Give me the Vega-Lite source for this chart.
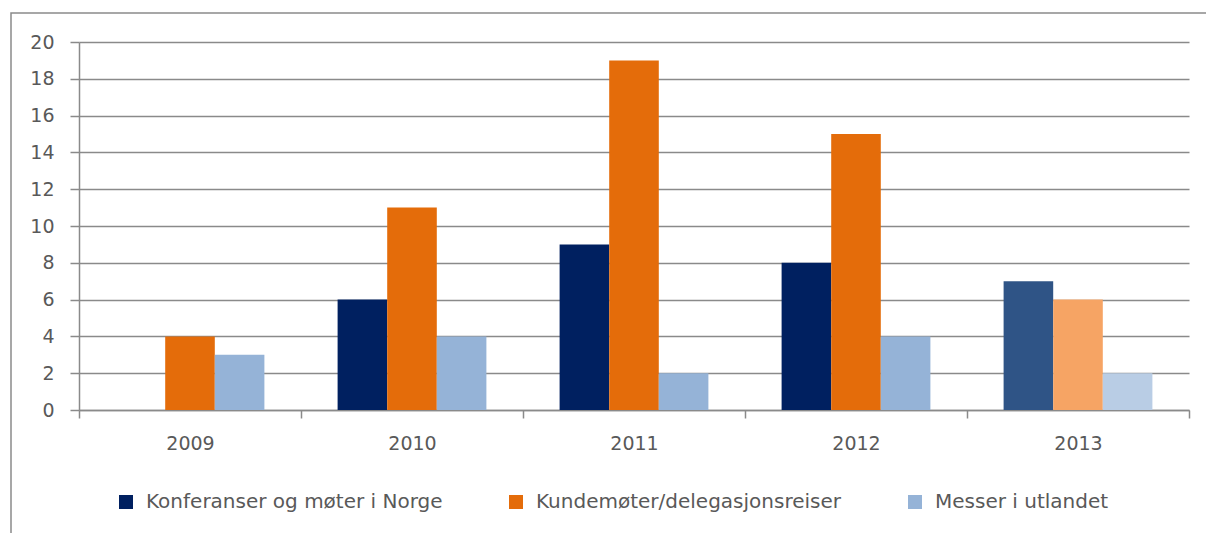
{
  "$schema": "https://vega.github.io/schema/vega-lite/v6.json",
  "autosize": {"type": "none"},
  "padding": {"left": 11, "top": 13, "right": 0, "bottom": 0},
  "width": 1200,
  "height": 525,
  "background": "white",
  "config": {
    "view": {"stroke": "#8a8a8a", "strokeWidth": 1.5},
    "font": "DejaVu Sans"
  },
  "data": {
    "values": [
      {"year": "2009", "series": "Konferanser og møter i Norge", "value": 0},
      {"year": "2009", "series": "Kundemøter/delegasjonsreiser", "value": 4},
      {"year": "2009", "series": "Messer i utlandet", "value": 3},
      {"year": "2010", "series": "Konferanser og møter i Norge", "value": 6},
      {"year": "2010", "series": "Kundemøter/delegasjonsreiser", "value": 11},
      {"year": "2010", "series": "Messer i utlandet", "value": 4},
      {"year": "2011", "series": "Konferanser og møter i Norge", "value": 9},
      {"year": "2011", "series": "Kundemøter/delegasjonsreiser", "value": 19},
      {"year": "2011", "series": "Messer i utlandet", "value": 2},
      {"year": "2012", "series": "Konferanser og møter i Norge", "value": 8},
      {"year": "2012", "series": "Kundemøter/delegasjonsreiser", "value": 15},
      {"year": "2012", "series": "Messer i utlandet", "value": 4},
      {"year": "2013", "series": "Konferanser og møter i Norge", "value": 7},
      {"year": "2013", "series": "Kundemøter/delegasjonsreiser", "value": 6},
      {"year": "2013", "series": "Messer i utlandet", "value": 2}
    ]
  },
  "encoding": {
    "x": {
      "field": "year", "type": "nominal",
      "scale": {"range": [68, 1178], "paddingInner": 0, "paddingOuter": 0},
      "axis": {
        "title": null, "orient": "bottom", "offset": -128, "labelAngle": 0,
        "tickBand": "extent", "tickSize": 8, "tickColor": "#8a8a8a", "tickWidth": 1.5,
        "domainColor": "#8a8a8a", "domainWidth": 1.5, "grid": false,
        "labelFontSize": 19, "labelColor": "#595959", "labelPadding": 16, "labelFont": "DejaVu Sans"
      }
    },
    "xOffset": {
      "field": "series", "type": "nominal",
      "scale": {"domain": ["Konferanser og møter i Norge", "Kundemøter/delegasjonsreiser", "Messer i utlandet"], "paddingInner": 0, "paddingOuter": 0.738}
    },
    "y": {
      "field": "value", "type": "quantitative",
      "scale": {"domain": [0, 20], "range": [397, 29], "nice": false},
      "axis": {
        "title": null, "orient": "left", "offset": -68,
        "values": [0, 2, 4, 6, 8, 10, 12, 14, 16, 18, 20],
        "grid": true, "gridColor": "#8a8a8a", "gridWidth": 1.5,
        "tickSize": 9, "tickColor": "#8a8a8a", "tickWidth": 1.5,
        "domainColor": "#8a8a8a", "domainWidth": 1.5,
        "labelFontSize": 19, "labelColor": "#595959", "labelPadding": 16, "labelFont": "DejaVu Sans"
      }
    }
  },
  "layer": [
    {
      "transform": [{"filter": "datum.year != '2013'"}],
      "mark": {"type": "bar"},
      "encoding": {
        "color": {
          "field": "series", "type": "nominal",
          "scale": {
            "domain": ["Konferanser og møter i Norge", "Kundemøter/delegasjonsreiser", "Messer i utlandet"],
            "range": ["#002060", "#E46C0A", "#95B3D7"]
          },
          "legend": {
            "title": null, "orient": "none", "direction": "horizontal",
            "legendX": 105, "legendY": 479,
            "symbolType": "square", "symbolSize": 196, "symbolStrokeWidth": 0,
            "labelFontSize": 20, "labelColor": "#595959", "labelFont": "DejaVu Sans",
            "labelOffset": 10, "columnPadding": 63, "labelLimit": 500
          }
        }
      }
    },
    {
      "transform": [{"filter": "datum.year == '2013'"}],
      "mark": {"type": "bar"},
      "encoding": {
        "color": {
          "field": "series", "type": "nominal",
          "scale": {
            "domain": ["Konferanser og møter i Norge", "Kundemøter/delegasjonsreiser", "Messer i utlandet"],
            "range": ["#2F5486", "#F6A464", "#B9CDE5"]
          },
          "legend": null
        }
      }
    }
  ],
  "resolve": {"scale": {"color": "independent"}}
}
